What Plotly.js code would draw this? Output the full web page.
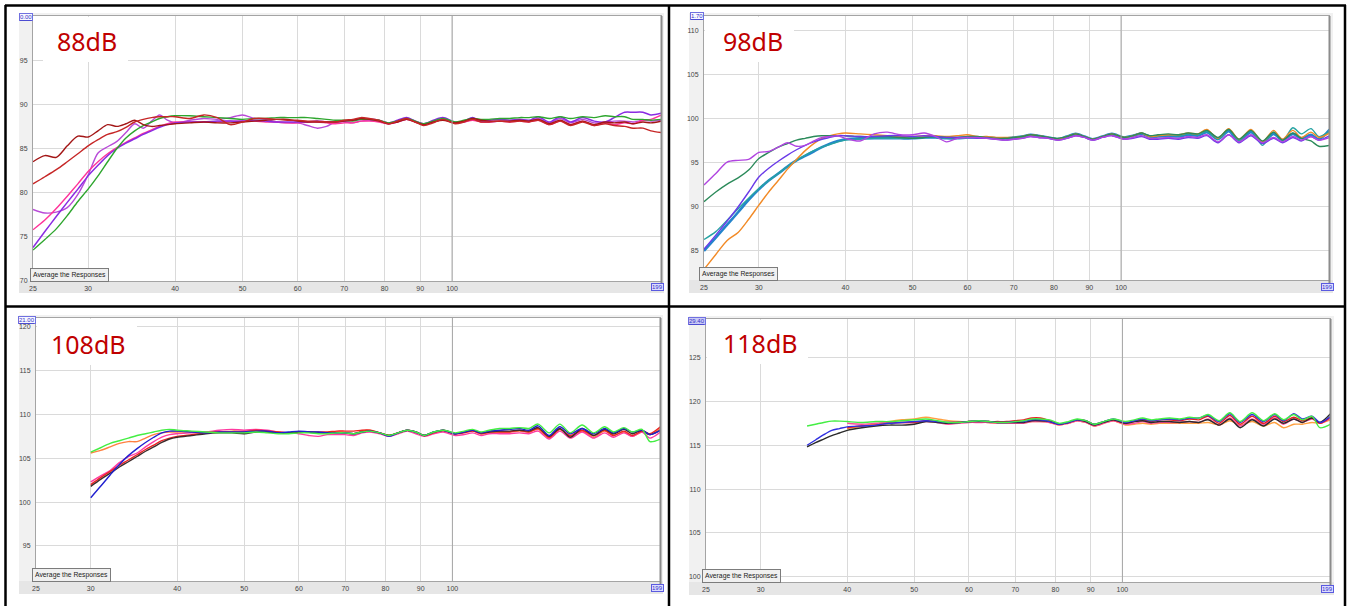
<!DOCTYPE html>
<html><head><meta charset="utf-8">
<script src="https://cdn.plot.ly/plotly-3.0.1.min.js"></script>
<style>html,body{margin:0;padding:0;background:#fff;}#chart{width:1353px;height:606px;}</style>
</head><body><div id="chart"></div>
<script>
// ---------- DATA ----------
const freq = [25,26,27,28,29,30,31,32,33,34,35,36,37,38,39,40,
  42,44,46,48,50,52,54,56,58,60,62,64,66,68,70,72,74,76,78.5,81,83.5,86,88.5,91,94,97,
  101,104,107,110,113,117,121,125,129,133,138,143,148,154,160,166,171,177,182,188,193,200];

const xTickVals = [25,30,40,50,60,70,80,90,100];
const xTickText = ['25','30','40','50','60','70','80','90','100'];
const panelLabels = ['88dB','98dB','108dB','118dB'];
const topLabels = ['0.00','1.70','21.00','29.40'];
const endLabel = '199';
const buttonLabel = 'Average the Responses';
const yRanges = [[70,100],[81.7,111.7],[91,121],[99.4,129.4]];
const yTicks = [[70,75,80,85,90,95],[85,90,95,100,105,110],[95,100,105,110,115,120],[100,105,110,115,120,125]];

// Panel 1 (88 dB)
const p1Green = [73.5,74.7,75.9,77.4,79.0,80.4,81.9,83.5,85.0,86.2,87.0,87.6,88.0,88.4,88.6,88.7,
  88.7,88.6,88.5,88.4,88.3,88.4,88.4,88.5,88.5,88.5,88.5,88.4,88.3,88.2,88.2,88.1,88.3,88.3,88.2,87.9,88.1,88.4,88.1,87.8,88.1,88.4,
  88.0,88.2,88.4,88.3,88.3,88.4,88.4,88.5,88.5,88.6,88.4,88.6,88.4,88.6,88.5,88.7,88.6,88.6,88.3,88.3,88.2,88.3];
const p1Violet = [73.8,75.6,77.3,78.9,80.4,81.9,83.1,84.2,85.0,85.6,86.1,86.6,87.0,87.4,87.7,87.9,
  88.0,88.0,88.1,88.1,88.1,88.2,88.1,88.0,88.0,88.0,88.0,88.1,88.0,88.0,88.1,88.2,88.3,88.3,88.2,87.9,88.2,88.5,88.1,87.8,88.2,88.5,
  88.0,88.1,88.5,88.1,88.2,88.3,88.2,88.3,88.2,88.6,88.0,88.6,88.0,88.5,88.1,88.0,88.5,89.1,89.1,89.1,88.8,89.0];
const p1Pink = [75.8,76.9,78.2,79.6,81.0,82.4,83.5,84.4,85.1,85.7,86.2,86.7,87.1,87.5,87.8,88.0,
  88.0,88.0,88.0,88.1,88.1,88.1,88.0,88.0,87.9,87.9,88.0,88.0,87.9,87.8,87.9,87.9,88.1,88.1,88.0,87.8,88.0,88.3,88.0,87.7,88.0,88.3,
  87.9,88.0,88.2,88.0,88.0,88.1,88.0,88.1,88.0,88.2,87.7,88.1,87.7,88.1,87.6,87.9,87.7,87.9,87.8,88.2,88.3,88.8];
const p1Orchid = [78.1,77.7,77.8,78.3,79.8,82.0,84.5,85.2,85.8,86.8,87.8,87.3,88.1,88.8,88.2,87.9,
  88.2,88.4,88.3,88.5,88.8,88.4,88.3,88.0,87.9,87.9,87.6,87.3,87.5,88.0,88.0,87.9,88.1,88.2,88.1,87.8,88.0,88.3,88.1,87.8,88.0,88.3,
  87.9,88.0,88.3,88.1,88.0,88.1,88.1,88.2,88.1,88.4,87.9,88.4,87.9,88.3,87.9,88.0,88.1,88.1,88.0,88.2,88.1,88.2];
const p1DarkRed = [83.5,84.2,84.0,85.3,86.4,86.3,87.0,87.7,87.5,87.8,88.2,87.7,87.5,87.6,87.7,87.8,
  87.9,88.0,87.9,87.9,88.0,88.1,88.2,88.3,88.3,88.1,88.0,88.0,88.0,88.0,88.1,88.2,88.4,88.3,88.1,87.8,88.0,88.3,88.0,87.7,88.0,88.2,
  87.9,88.1,88.4,88.2,88.1,88.1,88.1,88.2,88.1,88.3,87.8,88.2,87.7,88.1,87.7,88.0,87.9,88.0,87.8,88.0,87.9,88.1];
const p1Red = [81.0,81.8,82.6,83.5,84.4,85.3,86.0,86.6,86.9,87.4,88.0,88.3,88.5,88.6,88.6,88.6,
  88.4,88.8,88.5,87.7,88.0,88.4,88.4,88.3,88.2,88.2,88.1,88.1,88.0,88.0,88.2,88.3,88.5,88.4,88.2,87.8,88.1,88.4,88.0,87.6,87.9,88.3,
  87.8,88.0,88.3,88.0,88.0,88.1,88.0,88.1,88.0,88.2,87.7,88.1,87.6,88.0,87.6,87.8,87.6,87.5,87.3,87.3,87.0,86.8];

// Panel 2 (98 dB)
const p2Purple = [92.5,93.8,95.1,95.3,95.4,96.2,96.3,96.8,97.3,96.9,97.0,97.5,97.9,98.0,98.1,97.8,
  97.5,98.3,98.5,98.2,98.2,98.4,98.0,97.4,97.8,97.9,97.9,97.8,97.7,97.6,97.7,97.8,98.0,97.9,97.8,97.6,97.8,98.1,97.9,97.6,97.9,98.1,
  97.7,97.9,98.1,97.8,97.8,97.9,97.8,98.0,97.9,98.2,97.4,98.2,97.4,98.2,97.3,97.9,97.4,98.0,97.6,98.0,97.6,97.9];
const p2DarkGreen = [90.6,91.7,92.6,93.3,94.2,95.5,96.2,96.8,97.2,97.6,97.8,98.0,98.1,98.1,98.1,98.1,
  98.0,98.0,98.0,97.9,97.8,97.9,98.0,97.9,97.9,98.0,98.0,97.9,97.8,97.8,97.9,98.0,98.2,98.1,97.9,97.8,98.0,98.3,98.0,97.7,98.0,98.3,
  97.9,98.1,98.4,98.1,98.2,98.3,98.2,98.4,98.3,98.7,97.9,98.8,97.7,98.7,97.5,98.5,97.6,98.4,97.8,97.5,96.9,97.0];
const p2Teal = [86.3,87.2,88.5,89.8,91.0,92.1,93.0,93.8,94.6,95.3,95.9,96.4,96.8,97.1,97.4,97.6,
  97.7,97.8,97.8,97.8,97.8,97.9,97.9,97.8,97.8,97.9,97.9,97.9,97.8,97.8,97.9,98.0,98.2,98.1,97.9,97.7,98.0,98.3,98.0,97.7,98.0,98.3,
  97.9,98.1,98.4,98.0,98.1,98.2,98.1,98.3,98.2,98.6,97.7,98.8,97.5,98.7,97.0,98.5,97.5,99.0,98.3,98.9,98.0,98.6];
const p2Blue = [85.0,86.5,88.0,89.4,90.8,92.0,93.0,93.8,94.6,95.3,95.8,96.3,96.8,97.2,97.5,97.7,
  97.8,97.8,97.8,97.8,97.8,97.9,97.9,97.8,97.8,97.9,97.9,97.9,97.8,97.8,97.9,98.0,98.2,98.1,97.9,97.7,98.0,98.3,98.0,97.7,98.0,98.3,
  97.9,98.1,98.3,98.0,98.0,98.1,98.0,98.2,98.1,98.5,97.7,98.6,97.5,98.5,97.3,98.3,97.6,98.3,97.8,98.2,97.7,98.8];
const p2Violet = [85.2,86.8,88.4,90.0,91.7,93.4,94.4,95.2,95.9,96.5,97.0,97.4,97.7,97.9,98.1,98.1,
  98.0,98.0,98.1,98.1,98.0,98.1,98.0,97.9,97.9,97.9,97.8,97.8,97.7,97.6,97.7,97.8,98.0,97.9,97.8,97.6,97.8,98.1,97.9,97.6,97.9,98.1,
  97.7,97.8,98.0,97.7,97.7,97.8,97.7,97.9,97.8,98.1,97.3,98.2,97.3,98.1,97.2,97.8,97.3,97.9,97.5,98.0,97.6,98.1];
const p2Orange = [82.9,84.6,86.2,87.1,88.6,90.2,91.7,93.0,94.3,95.4,96.4,97.2,97.8,98.1,98.3,98.4,
  98.3,98.2,98.1,98.0,98.0,98.1,98.1,98.0,98.1,98.2,98.0,98.0,97.9,97.9,97.9,98.0,98.2,98.1,97.9,97.7,98.0,98.3,98.0,97.7,98.0,98.3,
  97.9,98.1,98.4,98.0,98.1,98.2,98.2,98.4,98.3,98.8,97.8,98.9,97.7,98.8,97.4,98.7,97.7,98.7,97.9,98.5,97.9,98.4];

// Panel 3 (108 dB)
const p3Green = [null,null,null,null,null,105.7,106.2,106.7,107.0,107.3,107.6,107.8,108.0,108.2,108.3,108.2,
  108.1,108.0,107.9,107.9,107.9,108.0,107.9,107.8,107.8,107.9,107.9,107.8,107.8,107.9,107.9,107.8,108.0,108.1,107.9,107.6,107.9,108.2,108.0,107.6,108.0,108.2,
  107.9,108.1,108.3,108.0,108.2,108.4,108.4,108.5,108.4,108.9,107.9,108.9,107.9,108.8,107.9,108.6,108.0,108.5,108.0,108.3,106.9,107.2];
const p3Orange = [null,null,null,null,null,105.6,105.9,106.3,106.7,106.9,106.9,107.3,107.7,107.9,108.0,108.0,
  108.0,108.0,108.0,108.1,108.1,108.2,108.0,107.9,107.9,108.0,108.0,107.9,107.9,108.0,107.9,107.8,108.1,108.2,107.9,107.6,107.9,108.2,108.0,107.6,107.9,108.1,
  107.8,108.0,108.1,107.8,107.9,108.0,108.0,108.1,108.0,108.3,107.3,108.3,107.5,108.1,107.4,108.1,107.6,108.0,107.5,108.0,107.7,108.4];
const p3Blue = [null,null,null,null,null,100.5,101.8,103.1,104.3,105.3,106.1,106.8,107.4,107.9,108.1,108.1,
  108.0,107.9,108.0,108.0,108.0,108.1,108.1,107.9,108.0,108.1,108.0,108.0,107.9,107.9,107.9,107.8,108.0,108.1,107.9,107.5,107.9,108.2,108.0,107.6,108.0,108.2,
  107.8,108.0,108.2,107.9,108.1,108.2,108.3,108.4,108.2,108.7,107.6,108.6,107.8,108.4,107.8,108.4,107.9,108.4,108.0,108.2,107.7,108.2];
const p3Pink = [null,null,null,null,null,102.3,103.0,103.6,104.5,105.2,105.6,106.3,106.9,107.4,107.7,107.8,
  107.9,108.0,108.2,108.3,108.2,108.3,108.2,108.0,107.9,107.8,107.6,107.5,107.7,107.7,107.7,107.6,107.9,108.0,107.8,107.5,107.8,108.1,107.8,107.5,107.8,108.0,
  107.6,107.7,107.9,107.6,107.8,107.8,107.8,107.9,107.8,108.1,107.2,108.1,107.3,108.0,107.3,107.9,107.4,107.9,107.5,108.0,107.3,108.0];
const p3Dark = [null,null,null,null,null,101.8,102.6,103.3,104.0,104.6,105.2,105.8,106.3,106.8,107.2,107.4,
  107.6,107.8,107.9,107.9,107.8,108.0,108.0,107.9,107.9,108.0,108.0,107.9,107.9,107.9,107.9,107.8,108.0,108.1,107.9,107.6,107.9,108.2,108.0,107.6,108.0,108.2,
  107.8,108.0,108.2,107.9,108.0,108.1,108.1,108.2,108.1,108.5,107.5,108.4,107.4,108.4,107.6,108.3,107.8,108.3,107.8,108.2,107.7,108.2];
const p3Red = [null,null,null,null,null,102.0,102.8,103.5,104.2,104.8,105.4,106.0,106.5,107.0,107.3,107.5,
  107.7,107.9,108.0,108.0,108.0,108.2,108.1,108.0,107.9,108.0,108.0,108.0,108.0,108.1,108.1,108.1,108.2,108.2,107.9,107.6,107.9,108.2,108.0,107.6,107.9,108.2,
  107.8,107.9,108.1,107.8,108.0,108.0,108.0,108.2,108.0,108.4,107.4,108.3,107.6,108.2,107.6,108.2,107.6,108.1,107.6,108.1,107.8,108.6];

// Panel 4 (118 dB)
const p4Green = [null,null,null,null,null,null,null,null,null,null,117.2,117.4,117.6,117.75,117.75,117.7,
  117.6,117.7,117.7,117.8,117.9,118.0,117.8,117.6,117.6,117.7,117.8,117.7,117.6,117.6,117.7,117.8,118.0,118.0,117.9,117.5,117.7,118.0,117.8,117.4,117.7,118.0,
  117.7,117.9,118.1,117.9,118.0,118.1,118.0,118.2,118.1,118.5,117.8,118.7,117.7,118.7,117.8,118.6,117.9,118.5,117.9,118.3,117.0,117.4];
const p4Blue = [null,null,null,null,null,null,null,null,null,null,115.0,115.6,116.2,116.7,116.9,117.1,
  117.2,117.3,117.5,117.6,117.7,117.8,117.7,117.6,117.6,117.7,117.8,117.7,117.6,117.6,117.7,117.7,117.9,117.9,117.7,117.4,117.6,117.9,117.8,117.4,117.7,118.0,
  117.6,117.8,118.0,117.8,117.9,118.0,117.9,118.1,118.1,118.4,117.7,118.6,117.6,118.5,117.7,118.5,117.8,118.6,118.0,118.3,117.6,118.3];
const p4Black = [null,null,null,null,null,null,null,null,null,null,114.8,115.3,115.7,116.1,116.4,116.7,
  117.0,117.2,117.3,117.3,117.4,117.7,117.6,117.5,117.6,117.7,117.7,117.7,117.6,117.6,117.6,117.6,117.8,117.8,117.7,117.4,117.6,117.9,117.7,117.3,117.6,117.9,
  117.5,117.7,117.8,117.6,117.7,117.7,117.6,117.7,117.6,117.9,117.3,118.0,117.0,117.9,117.2,118.0,117.5,118.0,117.6,118.1,117.6,118.6];
const p4Orange = [null,null,null,null,null,null,null,null,null,null,null,null,null,null,null,116.9,
  117.2,117.4,117.7,117.9,118.0,118.2,118.0,117.8,117.7,117.7,117.7,117.6,117.5,117.5,117.5,117.5,117.7,117.7,117.6,117.3,117.5,117.8,117.6,117.2,117.5,117.8,
  117.3,117.4,117.5,117.4,117.5,117.5,117.5,117.5,117.5,117.6,117.3,117.8,117.3,117.7,117.2,117.6,117.0,117.4,117.4,117.6,117.5,117.9];
const p4Red = [null,null,null,null,null,null,null,null,null,null,null,null,null,null,null,117.0,
  117.2,117.3,117.5,117.6,117.6,117.8,117.7,117.6,117.6,117.7,117.8,117.7,117.7,117.7,117.8,117.9,118.1,118.1,117.8,117.4,117.6,117.9,117.8,117.4,117.7,117.9,
  117.5,117.7,117.9,117.7,117.9,117.9,117.8,118.0,117.9,118.3,117.5,118.4,117.4,118.3,117.5,118.3,117.7,118.2,117.8,118.1,117.5,118.2];
const p4Pink = [null,null,null,null,null,null,null,null,null,null,null,null,null,null,null,117.5,
  117.4,117.5,117.6,117.6,117.6,117.7,117.6,117.4,117.5,117.6,117.6,117.6,117.5,117.5,117.5,117.5,117.7,117.7,117.6,117.3,117.5,117.8,117.6,117.2,117.5,117.8,
  117.4,117.5,117.7,117.5,117.6,117.6,117.6,117.7,117.6,118.0,117.3,118.1,117.2,118.0,117.4,118.1,117.4,118.0,117.6,118.0,117.5,118.1];

// ---------- LAYOUT / STYLE ----------
const W = 1353, H = 606;
const fx = px => px / W;
const fy = py => 1 - py / H;

// plot rectangles in pixels [left, top, right, bottom]
const plotRects = [[33,16,661,281],[704,16,1329,280],[36,318,660,581],[706,319,1330,582]];
const panelRects = [[19,13,664,293],[689,13,1333,293],[19,315,663,594],[689,316,1334,595]];
const labelBoxes = [[43,17,128,62],[705,17,794,62],[37,319,137,365],[707,320,808,364]];
const labelPos = [[86.5,41],[753,41],[88,344],[760.5,343]];
const buttonPos = [[69,274.5],[739,273.5],[71.5,574.5],[741.5,576]];
const topPos = [[26,16.5],[697,16],[27,319.5],[697,321]];
const endPos = [[657.5,286.5],[1327,287],[657,588],[1327,589]];

const series = [
  [[p1Orchid,'#b84ad8',1.4],[p1Pink,'#ff3399',1.4],[p1Violet,'#8a2be2',1.5],[p1Green,'#2ea62e',1.4],[p1DarkRed,'#a31616',1.4],[p1Red,'#c62626',1.4]],
  [[p2Blue,'#2484cc',2.6],[p2Teal,'#26a3a3',1.4],[p2Orange,'#f28a26',1.4],[p2DarkGreen,'#2b8a5a',1.4],[p2Violet,'#6a3ae8',1.4],[p2Purple,'#b044e0',1.4]],
  [[p3Orange,'#ff8040',1.4],[p3Pink,'#ff3aa0',1.4],[p3Red,'#ee2020',1.4],[p3Dark,'#3d2b2b',1.4],[p3Blue,'#2020d0',1.4],[p3Green,'#44ee44',1.4]],
  [[p4Orange,'#ffa040',1.4],[p4Pink,'#ff4a9a',1.4],[p4Red,'#e82020',1.4],[p4Black,'#2b2b2b',1.4],[p4Blue,'#3030e0',1.4],[p4Green,'#44ee44',1.4]]
];

const traces = [];
series.forEach((list, i) => {
  const sfx = i === 0 ? '' : String(i + 1);
  list.forEach(([vals, color, w]) => {
    traces.push({
      type: 'scatter', mode: 'lines', x: freq, y: vals,
      xaxis: 'x' + sfx, yaxis: 'y' + sfx,
      line: {color: color, width: w, shape: 'spline', smoothing: 0.8},
      connectgaps: false, hoverinfo: 'skip', showlegend: false
    });
  });
});

const tickFont = {size: 7, color: '#444', family: 'Liberation Sans, Arial, sans-serif'};
const layout = {
  width: W, height: H, margin: {l: 0, r: 0, t: 0, b: 0},
  paper_bgcolor: '#ffffff', plot_bgcolor: 'rgba(0,0,0,0)',
  showlegend: false, shapes: [], annotations: []
};

const topShapes = [];
plotRects.forEach((r, i) => {
  const sfx = i === 0 ? '' : String(i + 1);
  layout['xaxis' + sfx] = {
    type: 'log', range: [Math.log10(25), Math.log10(199.6)],
    domain: [fx(r[0]), fx(r[2])], anchor: 'y' + sfx,
    tickvals: xTickVals, ticktext: xTickText, ticks: '', ticklabelstandoff: 1,
    showgrid: true, gridcolor: '#dadada', gridwidth: 1,
    showline: true, mirror: true, linecolor: '#a4a4a4', linewidth: 1,
    zeroline: false, fixedrange: true, tickfont: tickFont
  };
  layout['yaxis' + sfx] = {
    range: yRanges[i], domain: [fy(r[3]), fy(r[1])], anchor: 'x' + sfx,
    tickvals: yTicks[i], ticks: '', ticklabelstandoff: 3,
    showgrid: true, gridcolor: '#dadada', gridwidth: 1,
    showline: true, mirror: true, linecolor: '#a4a4a4', linewidth: 1,
    zeroline: false, fixedrange: true, tickfont: tickFont
  };
  const p = panelRects[i];
  layout.shapes.push({type: 'rect', xref: 'paper', yref: 'paper', layer: 'below',
    x0: fx(p[0]), x1: fx(p[2]), y0: fy(p[3]), y1: fy(p[1]), fillcolor: '#f1f1f1', line: {width: 0}});
  layout.shapes.push({type: 'rect', xref: 'paper', yref: 'paper', layer: 'below',
    x0: fx(p[0]), x1: fx(p[2]), y0: fy(p[3]), y1: fy(r[3]), fillcolor: '#e6e6e6', line: {width: 0}});
  layout.shapes.push({type: 'rect', xref: 'paper', yref: 'paper', layer: 'below',
    x0: fx(r[0]), x1: fx(r[2]), y0: fy(r[3]), y1: fy(r[1]), fillcolor: '#ffffff', line: {width: 0}});
  const x100 = r[0] + (r[2] - r[0]) * (2 - Math.log10(25)) / (Math.log10(199.6) - Math.log10(25));
  topShapes.push({type: 'line', xref: 'paper', yref: 'paper', layer: 'above',
    x0: fx(x100), x1: fx(x100), y0: fy(r[3]), y1: fy(r[1]), line: {color: '#a6a6a6', width: 1}});
  topShapes.push({type: 'line', xref: 'paper', yref: 'paper', layer: 'above',
    x0: fx(r[2] + 0.5), x1: fx(r[2] + 0.5), y0: fy(r[3] + 10), y1: fy(r[1]), line: {color: '#8c8c8c', width: 2}});
  const b = labelBoxes[i];
  topShapes.push({type: 'rect', xref: 'paper', yref: 'paper', layer: 'above',
    x0: fx(b[0]), x1: fx(b[2]), y0: fy(b[3]), y1: fy(b[1]), fillcolor: '#ffffff', line: {width: 0}});

  layout.annotations.push({xref: 'paper', yref: 'paper', x: fx(labelPos[i][0]), y: fy(labelPos[i][1]),
    xanchor: 'center', yanchor: 'middle', showarrow: false, text: panelLabels[i],
    font: {size: 25, color: '#c00000', family: 'Noto Sans, Open Sans, sans-serif'}});
  layout.annotations.push({xref: 'paper', yref: 'paper', x: fx(buttonPos[i][0]), y: fy(buttonPos[i][1]),
    xanchor: 'center', yanchor: 'middle', showarrow: false, text: buttonLabel,
    font: {size: 6.8, color: '#222', family: 'Liberation Sans, Arial, sans-serif'},
    bgcolor: '#f0f0f0', bordercolor: '#7c7c7c', borderwidth: 1, borderpad: 2});
  layout.annotations.push({xref: 'paper', yref: 'paper', x: fx(topPos[i][0]), y: fy(topPos[i][1]),
    xanchor: 'center', yanchor: 'middle', showarrow: false, text: '<u>' + topLabels[i] + '</u>',
    font: {size: 6, color: '#3434c8', family: 'Liberation Sans, Arial, sans-serif'},
    bgcolor: i === 3 ? '#c9c9f5' : '#f7f7ff', bordercolor: '#7070e0', borderwidth: 1, borderpad: 0});
  layout.annotations.push({xref: 'paper', yref: 'paper', x: fx(endPos[i][0]), y: fy(endPos[i][1]),
    xanchor: 'center', yanchor: 'middle', showarrow: false, text: endLabel,
    font: {size: 6, color: '#3434c8', family: 'Liberation Sans, Arial, sans-serif'},
    bgcolor: '#dcdcff', bordercolor: '#5a5ae0', borderwidth: 1, borderpad: 0});
});
layout.shapes = layout.shapes.concat(topShapes);

// black table borders
const blackLines = [
  [5, 5.5, 1346, 5.5], [5.5, 5, 5.5, 606], [669, 5, 669, 606], [1345, 5, 1345, 606], [5, 306.5, 1346, 306.5]
];
blackLines.forEach(l => {
  layout.shapes.push({type: 'line', xref: 'paper', yref: 'paper', layer: 'above',
    x0: fx(l[0]), x1: fx(l[2]), y0: fy(l[1]), y1: fy(l[3]), line: {color: '#000', width: 2.5}});
});

Plotly.newPlot('chart', traces, layout, {staticPlot: true, displayModeBar: false});
</script>
</body></html>
